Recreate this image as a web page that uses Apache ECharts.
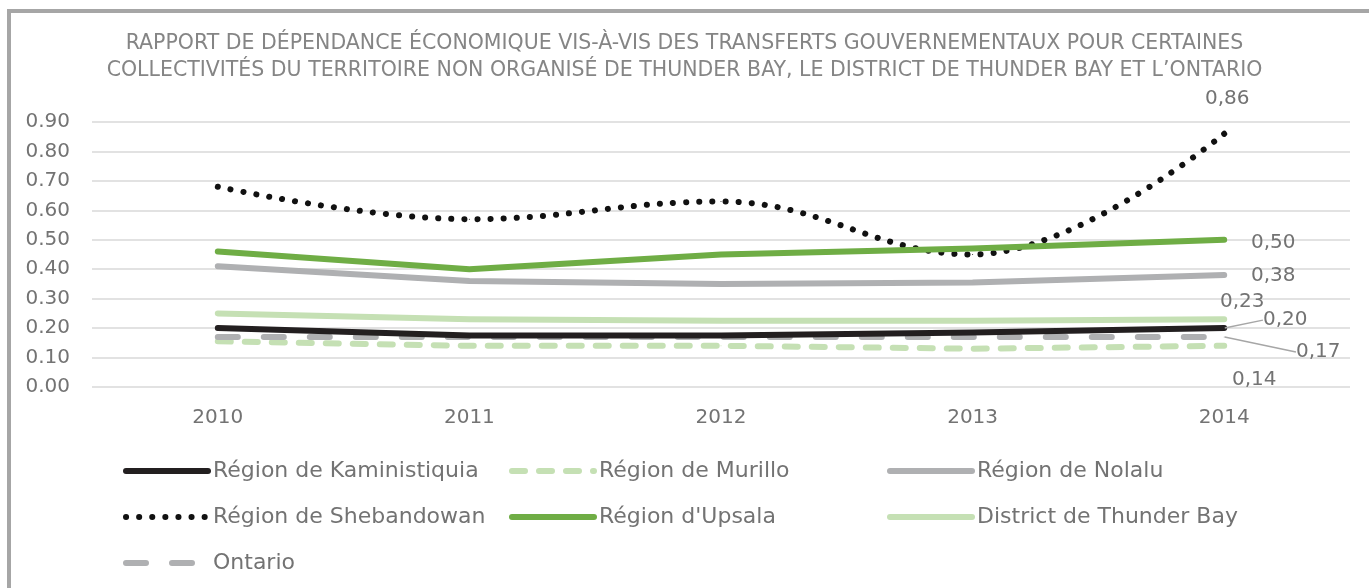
<!DOCTYPE html>
<html>
<head>
<meta charset="utf-8">
<script src="https://cdn.jsdelivr.net/npm/echarts@6/dist/echarts.min.js"></script>
<style>
  html, body { margin: 0; padding: 0; background: #fff; }
  #chart { width: 1369px; height: 588px; }
</style>
</head>
<body>
<div id="chart"></div>
<script>
const years = ['2010', '2011', '2012', '2013', '2014']
const yTicks = [0, 0.1, 0.2, 0.3, 0.4, 0.5, 0.6, 0.7, 0.8, 0.9]

const kaministiquia = [0.20, 0.175, 0.175, 0.185, 0.20]
const murillo = [0.155, 0.14, 0.14, 0.13, 0.14]
const nolalu = [0.41, 0.36, 0.35, 0.355, 0.38]
const shebandowan = [0.68, 0.57, 0.63, 0.45, 0.86]
const upsala = [0.46, 0.40, 0.45, 0.47, 0.50]
const thunderBay = [0.25, 0.23, 0.225, 0.225, 0.23]
const ontario = [0.17, 0.17, 0.17, 0.17, 0.17]

const textColor = '#737373'
const font = 'DejaVu Sans'

const chart = echarts.init(document.getElementById('chart'))

// only the last point gets a label, moved to where the original had it
const makeSeries = (name, values, line, labelShift, guide, smooth) => ({
  name,
  type: 'line',
  smooth: smooth || false,
  symbol: 'circle',
  symbolSize: 1,
  itemStyle: { color: line.color },
  lineStyle: Object.assign({ cap: 'round', join: 'round' }, line),
  data: values.map((v, i) => ({
    value: v,
    label: { show: i === values.length - 1 }
  })),
  label: {
    position: 'inside',
    color: textColor,
    fontFamily: font,
    fontSize: 20,
    formatter: p => p.value.toFixed(2).replace('.', ',')
  },
  labelLayout: { dx: labelShift[0], dy: labelShift[1] },
  labelLine: {
    show: guide,
    lineStyle: { color: '#a6a6a6', width: 1.5 }
  },
  z: line.z || 2
})

const series = [
  makeSeries('Région de Kaministiquia', kaministiquia, { color: '#231f20', width: 6, z: 4 }, [61, -8], true),
  makeSeries('Région de Murillo', murillo, { color: '#c5e0b4', width: 6, type: [13, 14] }, [30, 34], false),
  makeSeries('Région de Nolalu', nolalu, { color: '#afb0b2', width: 6 }, [49, 1], false),
  makeSeries('Région de Shebandowan', shebandowan, { color: '#111', width: 6, type: [0.1, 13] }, [3, -35], false, 0.4),
  makeSeries("Région d'Upsala", upsala, { color: '#6fad45', width: 6 }, [49, 3], false),
  makeSeries('District de Thunder Bay', thunderBay, { color: '#c5e0b4', width: 6 }, [18, -17], false),
  makeSeries('Ontario', ontario, { color: '#afb0b2', width: 6, type: [20, 26], z: 3 }, [94, 15], true)
]

const legendBase = {
  orient: 'vertical',
  top: 455,
  itemWidth: 82,
  itemHeight: 14,
  itemGap: 24,
  itemStyle: { opacity: 0 },
  lineStyle: { width: 6, cap: 'round' },
  textStyle: { color: textColor, fontFamily: font, fontSize: 22 }
}

chart.setOption({
  animation: false,
  title: {
    text: 'RAPPORT DE DÉPENDANCE ÉCONOMIQUE VIS-À-VIS DES TRANSFERTS GOUVERNEMENTAUX POUR CERTAINES\nCOLLECTIVITÉS DU TERRITOIRE NON ORGANISÉ DE THUNDER BAY, LE DISTRICT DE THUNDER BAY ET L’ONTARIO',
    left: 'center',
    top: 25,
    textStyle: {
      color: '#858585',
      fontFamily: font,
      fontWeight: 'normal',
      fontSize: 20.5,
      lineHeight: 27
    }
  },
  graphic: [{
    type: 'rect',
    shape: { x: 9, y: 11, width: 1400, height: 620 },
    style: { fill: 'none', stroke: '#a6a6a6', lineWidth: 4 },
    silent: true
  }],
  legend: [
    Object.assign({ left: 118, data: ['Région de Kaministiquia', 'Région de Shebandowan', 'Ontario'] }, legendBase),
    Object.assign({ left: 504, data: ['Région de Murillo', "Région d'Upsala"] }, legendBase),
    Object.assign({ left: 882, data: ['Région de Nolalu', 'District de Thunder Bay'] }, legendBase)
  ],
  grid: { left: 92, right: 19, top: 122, bottom: 201 },
  xAxis: {
    type: 'category',
    data: years,
    boundaryGap: true,
    axisLine: { show: false },
    axisTick: { show: false },
    axisLabel: { color: textColor, fontFamily: font, fontSize: 20, margin: 21 }
  },
  yAxis: {
    type: 'value',
    min: yTicks[0],
    max: yTicks[yTicks.length - 1],
    interval: 0.1,
    axisLine: { show: false },
    axisTick: { show: false },
    splitLine: { lineStyle: { color: '#d9d9d9', width: 1.5 } },
    axisLabel: {
      color: textColor,
      fontFamily: font,
      fontSize: 20,
      margin: 22,
      formatter: v => v.toFixed(2)
    }
  },
  series
})
</script>
</body>
</html>
